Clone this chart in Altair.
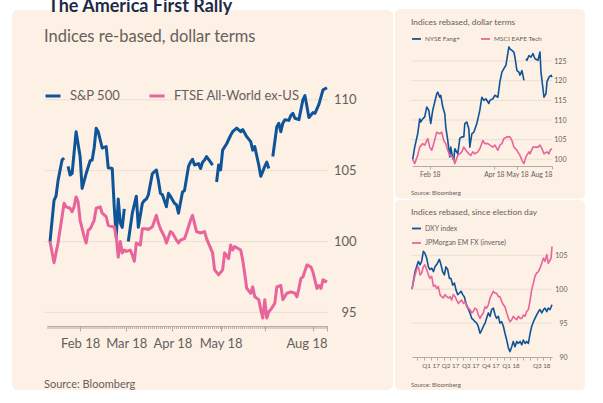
import altair as alt
import pandas as pd

FONT = "Lato"
BLUE = "#0F5499"
PINK = "#E9649A"
CARD = "#FDF0E4"
GRID = "#EADFD3"
AXIS = "#B5ABA2"
LABEL = "#66605C"

# ---------------- main chart: S&P 500 vs FTSE All-World ex-US (trading-day index) -------------
sp_days = [0, 2, 3, 4, 6, 7, 8, 9, 10, 11, 13, 15, 16, 18, 20, 21, 22, 23, 24, 26, 28, 29, 31, 32, 33,
           34, 35, 36, 37, 38, 39, 41, 43, 44, 46, 47, 48, 49, 51, 53, 54, 55, 56, 58, 59, 60, 62, 63,
           64, 66, 67, 69, 70, 71, 72, 74, 75, 76, 77, 78, 80, 81, 82, 83, 84, 85, 86, 88, 90, 91, 93,
           95, 96, 98, 100, 101, 102, 104, 105, 107, 108, 109, 110, 111, 113, 114, 115, 116, 117, 119,
           120, 121, 122, 124, 125, 126, 127, 129, 131, 132, 134, 136, 138]
sp_vals = [100.0, 102.9, 103.2, 104.3, 105.75, 105.9, None, 105.3, 104.7, 104.8, 107.75, 106.0, 103.75,
           104.8, 105.7, 105.75, 106.6, 108.0, 107.75, 106.6, 106.7, 105.2, 105.15, 102.45, 100.3,
           103.0, 101.3, 101.0, 102.3, None, 100.0, 102.0, 103.2, 101.0, 102.7, 102.9, 103.0, 103.3,
           104.8, 105.05, 104.3, 103.4, 103.3, 102.45, 103.4, 103.2, 102.7, 102.6, 102.0, 103.5, 103.6,
           105.3, 105.6, 105.8, 105.4, 105.5, 105.15, 105.6, 105.75, 106.0, 105.6, 105.4, None, 104.2,
           105.4, 105.05, 106.45, 106.9, 107.5, 107.75, 108.0, 107.75, 107.9, 107.4, 107.05, 106.45,
           106.7, 105.4, 104.6, 105.3, 105.6, 105.15, None, 106.0, 108.1, 108.35, 107.75, 108.35, 108.6,
           108.55, 108.9, 109.05, 108.7, 108.6, 109.3, 110.0, 110.3, 108.75, 109.1, 109.05, 109.7,
           110.7, 110.85]

ft_days = [0, 2, 3, 4, 6, 7, 8, 10, 11, 12, 13, 14, 15, 17, 18, 19, 20, 22, 23, 25, 26, 28, 29, 31, 32,
           33, 34, 35, 36, 37, 38, 40, 41, 42, 43, 45, 46, 48, 49, 51, 53, 54, 55, 57, 58, 60, 61, 63,
           64, 65, 67, 68, 70, 71, 73, 75, 77, 78, 81, 82, 84, 86, 87, 89, 90, 91, 92, 95, 96, 97, 98,
           100, 101, 102, 104, 105, 106, 107, 108, 109, 110, 112, 113, 115, 116, 118, 120, 122, 123,
           124, 125, 126, 128, 130, 131, 133, 134, 135, 136, 138]
ft_vals = [100.0, 98.5, 99.2, 99.9, 101.75, 102.7, 102.45, 102.35, 102.1, 102.45, 103.15, 102.8, 101.5,
           100.35, 99.9, 100.8, 100.9, 101.5, 102.35, 102.45, 102.0, 101.75, 101.15, 101.05, 101.05,
           100.35, 98.9, 100.0, 99.2, 99.4, 99.3, 99.4, 99.05, 98.6, 99.9, 99.75, 100.9, 100.9, 100.85,
           101.05, 101.85, 101.3, 100.9, 100.35, 99.9, 100.7, 100.6, 100.1, 99.9, 100.1, 100.2, 100.6,
           101.5, 101.85, 100.7, 100.6, 100.7, 100.2, 99.2, 98.0, 97.65, 98.0, 99.2, 98.8, 99.75, 99.4,
           99.65, 99.4, 98.7, 97.75, 96.7, 96.35, 96.8, 96.1, 95.9, 95.2, 94.6, 95.9, 94.6, 95.05, 95.2,
           95.65, 96.8, 96.9, 95.9, 96.35, 96.45, 96.35, 96.1, 96.7, 97.4, 97.5, 98.35, 98.2, 97.85,
           96.7, 96.9, 96.7, 97.3, 97.15]

main_series = ["S&P 500", "FTSE All-World ex-US"]
main_grid = [95, 100, 105, 110]
main_tick_vals = [15, 38, 61, 85, 107, 131, 138]
main_tick_labels = ["Feb 18", "Mar 18", "Apr 18", "May 18", "", "", "Aug 18"]

# ---------------- top right: NYSE Fang+ vs MSCI EAFE Tech -------------
fang_days = [0, 2, 5, 7, 8, 10, 12, 14, 16, 18, 20, 22, 24, 25, 27, 28, 30, 32, 33, 35, 37, 38, 40, 41,
             42, 45, 47, 49, 51, 52, 54, 56, 57, 59, 61, 64, 67, 69, 71, 73, 76, 77, 80, 82, 85, 87, 89,
             91, 93, 96, 97, 99, 101, 102, 104, 106, 107, 109, 111, 112, 113, 114, 116, 118, 120, 122,
             125, 127, 128, 131, 133, 134, 136, 138, 139]
fang_vals = [100.0, 103.1, 106.5, 110.3, 109.5, 110.3, 110.8, 113.3, 112.5, 109.1, 112.5, 114.6, 116.7,
             117.1, 115.8, 116.3, 113.3, 111.6, 108.2, 104.8, 100.6, 103.1, 100.2, 99.8, 102.7, 101.4,
             105.3, 105.7, 105.7, 109.1, 109.5, 107.8, 103.1, 106.5, 106.9, 109.1, 112.5, 115.8, 115.0,
             115.4, 114.2, 115.0, 115.4, 116.3, 115.8, 119.7, 122.2, 123.1, 123.9, 128.6, 128.1, 127.7,
             127.3, 126.0, 122.6, 122.2, 121.4, 122.6, 120.1, None, 125.6, 125.2, 126.4, 126.0, 126.9,
             125.6, 125.2, 127.3, 122.2, 115.8, 116.7, 119.7, 120.9, 121.4, 120.9]
eafe_days = [0, 2, 5, 7, 10, 12, 15, 17, 19, 21, 24, 27, 29, 31, 33, 35, 37, 40, 42, 45, 47, 49, 51, 53,
             56, 58, 60, 62, 65, 67, 70, 72, 75, 77, 80, 82, 85, 87, 89, 91, 94, 97, 99, 101, 104, 107,
             109, 111, 113, 116, 117, 120, 122, 125, 127, 129, 131, 134, 136, 137, 139]
eafe_vals = [100.0, 98.9, 101.0, 103.1, 104.0, 103.6, 105.3, 103.1, 102.3, 104.0, 106.9, 106.5, 106.9,
             104.8, 104.0, 102.3, 101.0, 100.6, 98.9, 101.0, 101.4, 101.9, 103.1, 102.3, 101.4, 101.0,
             101.9, 101.4, 101.9, 102.7, 104.8, 104.0, 104.0, 103.6, 103.1, 103.6, 102.3, 103.6, 104.0,
             105.3, 105.7, 105.7, 104.8, 103.1, 102.3, 101.0, 99.75, 98.9, 100.6, 101.9, 101.4, 103.1,
             103.1, 103.1, 103.6, 102.7, 101.4, 101.9, 101.4, 102.3, 102.7]
tr_series = ["NYSE Fang+", "MSCI EAFE Tech"]
tr_grid = [100, 105, 110, 115, 120, 125]
tr_tick_vals = [17, 81, 104, 139]
tr_tick_labels = ["Feb 18", "Apr 18", "May 18", "Aug 18"]

# ---------------- bottom right: DXY vs JPMorgan EM FX (days since election day) -------------
ELECTION = "2016-11-08"
dxy_days = [0, 14, 21, 29, 37, 44, 52, 59, 67, 75, 82, 90, 98, 105, 116, 125, 131, 140, 148, 155, 163,
            171, 178, 186, 194, 201, 209, 216, 224, 232, 239, 247, 258, 265, 273, 280, 288, 296, 303,
            311, 319, 326, 334, 341, 349, 357, 364, 372, 380, 387, 395, 402, 410, 418, 425, 433, 441,
            448, 456, 463, 471, 479, 486, 494, 502, 509, 517, 524, 532, 540, 547, 555, 562, 570, 578,
            585, 593, 601, 608, 616, 623, 631, 640]
dxy_vals = [100.0, 102.6, 103.3, 104.1, 103.6, 104.1, 105.6, 105.3, 104.6, 103.3, 102.9, 103.1, 102.6,
            103.3, 103.8, 104.4, 103.8, 102.6, 102.1, 103.3, 102.9, 101.6, 101.6, 100.6, 100.9, 99.9,
            99.2, 99.4, 99.7, 99.2, 98.9, 97.9, 97.0, 96.5, 95.7, 95.5, 95.2, 95.0, 94.5, 93.5, 94.0,
            94.5, 95.0, 95.7, 96.5, 96.0, 97.0, 97.2, 96.2, 95.7, 96.0, 95.0, 95.2, 94.5, 93.5, 92.5,
            91.3, 90.8, 91.5, 92.3, 91.5, 92.3, 92.0, 92.3, 91.8, 92.5, 92.0, 92.3, 92.0, 93.5, 94.5,
            95.2, 95.7, 96.2, 96.7, 97.0, 96.5, 97.0, 97.2, 96.7, 97.2, 97.0, 97.7]
em_days = [0, 14, 21, 29, 37, 44, 52, 59, 67, 75, 82, 90, 98, 105, 113, 120, 128, 136, 143, 151, 159,
           166, 174, 181, 189, 197, 204, 212, 220, 227, 235, 242, 250, 258, 265, 273, 280, 288, 296,
           303, 311, 319, 326, 334, 341, 349, 357, 364, 372, 380, 387, 395, 402, 410, 418, 425, 433,
           441, 448, 456, 463, 471, 479, 486, 494, 502, 509, 517, 524, 532, 540, 547, 555, 562, 570,
           578, 585, 593, 601, 608, 616, 623, 631, 636, 640]
em_vals = [100.0, 102.1, 102.9, 103.3, 102.1, 102.4, 103.3, 103.6, 102.9, 102.1, 101.6, 101.9, 100.4,
           100.6, 100.1, 100.4, 99.2, 98.9, 98.7, 99.2, 98.9, 98.7, 98.9, 98.4, 99.2, 98.9, 98.4, 97.9,
           98.2, 98.4, 97.9, 98.2, 97.4, 97.2, 97.0, 96.5, 96.7, 97.2, 97.0, 96.2, 95.7, 96.2, 96.5,
           97.4, 97.2, 97.7, 98.7, 99.2, 99.7, 99.4, 99.4, 98.9, 98.9, 98.2, 97.7, 97.4, 96.5, 95.7,
           95.2, 95.5, 96.0, 95.7, 95.5, 96.0, 95.7, 95.7, 96.2, 96.0, 96.7, 97.0, 98.4, 99.9, 100.9,
           101.9, 102.4, 102.6, 103.1, 103.8, 104.6, 104.1, 105.1, 103.8, 104.3, 104.6, 106.3]
br_series = ["DXY index", "JPMorgan EM FX (inverse)"]
br_grid = [95, 100, 105]
br_y_ticks = [90, 95, 100, 105]
br_label_months = ["2017-02", "2017-05", "2017-08", "2017-11", "2018-02", "2018-08"]
br_labels = ["Q1 17", "Q2 17", "Q3 17", "Q4 17", "Q1 18", "Q3 18"]


def to_rows(xs, ys, name):
    rows, seg = [], 0
    for x, y in zip(xs, ys):
        if y is None:
            seg += 1
            continue
        rows.append({"x": x, "v": y, "s": name, "seg": f"{name}-{seg}"})
    return rows


def label_expr(vals, labels, key="datum.value"):
    expr = "''"
    for v, l in reversed(list(zip(vals, labels))):
        expr = f"{key} == {v!r} ? '{l}' : ({expr})"
    return expr


def one():
    return pd.DataFrame({"t": [""]})


def rect(x, x2, y, y2, color, r=0):
    return alt.Chart(one()).mark_rect(color=color, cornerRadius=r).encode(
        x=alt.value(x), x2=alt.value(x2), y=alt.value(y), y2=alt.value(y2))


def text(s, x, y, size, color, weight="normal"):
    return alt.Chart(pd.DataFrame({"t": [s]})).mark_text(
        align="left", baseline="alphabetic", font=FONT, fontSize=size, color=color,
        fontWeight=weight).encode(text="t:N", x=alt.value(x), y=alt.value(y))


def grid(vals, yscale, yaxis, x0, x1):
    return alt.Chart(pd.DataFrame({"v": vals})).mark_rule(color=GRID, strokeWidth=1).encode(
        y=alt.Y("v:Q", scale=yscale, axis=yaxis), x=alt.value(x0), x2=alt.value(x1))


# ---------- main ----------
W1, H1 = 280, 283
xs1 = alt.Scale(domain=[-1.5, 138], nice=False, zero=False)
ys1 = alt.Scale(domain=[94.04, 114.01], nice=False, zero=False)
ax1 = alt.Axis(values=main_tick_vals, labelExpr=label_expr(main_tick_vals, main_tick_labels), title=None,
               grid=False, tickSize=5, tickColor=AXIS, domainColor=AXIS, labelFont=FONT, labelFontSize=13,
               labelColor=LABEL, labelPadding=6, labelOverlap=False, labelFlush=True, zindex=1)
ay1 = alt.Axis(orient="right", values=main_grid, title=None, grid=False, ticks=False, tickSize=0,
               domain=False, labelAlign="right", labelPadding=29, labelFont=FONT, labelFontSize=13,
               labelColor=LABEL, zindex=1)
main_df = pd.DataFrame(to_rows(sp_days, sp_vals, main_series[0]) + to_rows(ft_days, ft_vals, main_series[1]))
main_lines = alt.Chart(main_df).mark_line(strokeWidth=3, strokeJoin="round").encode(
    x=alt.X("x:Q", scale=xs1, axis=ax1),
    y=alt.Y("v:Q", scale=ys1, axis=ay1),
    color=alt.Color("s:N", scale=alt.Scale(domain=main_series, range=[BLUE, PINK]), legend=alt.Legend(
        orient="none", legendX=-3, legendY=44, direction="horizontal", title=None, symbolType="stroke",
        symbolStrokeWidth=3, symbolSize=225, labelFont=FONT, labelFontSize=13, labelColor=LABEL,
        labelOffset=8, columnPadding=22, padding=0)),
    detail="seg:N",
)
main_minor = alt.Chart(pd.DataFrame({"x": list(range(-1, 139))})).mark_rule(
    color=AXIS, strokeWidth=1).encode(
    x=alt.X("x:Q", scale=xs1, axis=ax1), y=alt.value(H1), y2=alt.value(H1 + 3))
main = alt.layer(
    rect(-47, 556, -63, 360, "#FFFFFF"),
    rect(-35, 346, -33, 347, CARD, 6),
    text("The America First Rally", 1, -31, 18, "#1F2B44", "bold"),
    text("Indices re-based, dollar terms", -3, -1.5, 16.5, LABEL),
    text("Source: Bloomberg", -3, 345, 11, LABEL),
    grid(main_grid, ys1, ay1, -2, W1 + 1),
    main_minor,
    main_lines,
).properties(width=W1, height=H1)

# ---------- top right ----------
W2, H2 = 140, 123
xs2 = alt.Scale(domain=[-0.7, 139], nice=False, zero=False)
ys2 = alt.Scale(domain=[98.3, 129.6], nice=False, zero=False)
ax2 = alt.Axis(values=tr_tick_vals, labelExpr=label_expr(tr_tick_vals, tr_tick_labels), title=None,
               grid=False, tickSize=3, tickColor=AXIS, domainColor=AXIS, labelFont=FONT, labelFontSize=6.8,
               labelColor=LABEL, labelPadding=2, labelOverlap=False, labelFlush=True, zindex=1)
ay2 = alt.Axis(orient="right", values=tr_grid, title=None, grid=False, ticks=False, tickSize=0,
               domain=False, labelAlign="right", labelPadding=14, labelFont=FONT, labelFontSize=7,
               labelColor=LABEL, zindex=1)
tr_df = pd.DataFrame(to_rows(fang_days, fang_vals, tr_series[0]) + to_rows(eafe_days, eafe_vals, tr_series[1]))
tr_lines = alt.Chart(tr_df).mark_line(strokeWidth=1.6, strokeJoin="round").encode(
    x=alt.X("x:Q", scale=xs2, axis=ax2),
    y=alt.Y("v:Q", scale=ys2, axis=ay2),
    color=alt.Color("s:N", scale=alt.Scale(domain=tr_series, range=[BLUE, PINK]), legend=alt.Legend(
        orient="none", legendX=-1, legendY=-10, direction="horizontal", title=None, symbolType="stroke",
        symbolStrokeWidth=1.8, symbolSize=81, labelFont=FONT, labelFontSize=6.5, labelColor=LABEL,
        labelOffset=3, columnPadding=16, padding=0)),
    detail="seg:N",
)
tr = alt.layer(
    rect(-17, 173, -34, 155.5, CARD, 5),
    text("Indices rebased, dollar terms", -1, -18, 8.4, LABEL),
    text("Source: Bloomberg", -1, 152, 6, LABEL),
    grid(tr_grid, ys2, ay2, -1, W2),
    tr_lines,
).properties(width=W2, height=H2)

# ---------- bottom right ----------
W3, H3 = 140, 111
start = pd.Timestamp(ELECTION)
br_rows = to_rows(dxy_days, dxy_vals, br_series[0]) + to_rows(em_days, em_vals, br_series[1])
br_df = pd.DataFrame(br_rows)
br_df["date"] = (start + pd.to_timedelta(br_df["x"], unit="D")).dt.strftime("%Y-%m-%dT00:00:00")
month_ticks = [alt.DateTime(year=y, month=m, date=1)
               for y, m in [(2016, 12)] + [(2017, k) for k in range(1, 13)] + [(2018, k) for k in range(1, 9)]]
br_expr = "''"
for mo, lab in reversed(list(zip(br_label_months, br_labels))):
    br_expr = f"timeFormat(datum.value, '%Y-%m') == '{mo}' ? '{lab}' : ({br_expr})"
xs3 = alt.Scale(domain=[alt.DateTime(year=2016, month=11, date=8), alt.DateTime(year=2018, month=8, date=10)],
                nice=False)
ys3 = alt.Scale(domain=[90, 106.37], nice=False, zero=False)
ax3 = alt.Axis(values=month_ticks, labelExpr=br_expr, title=None, grid=False, tickSize=3, tickColor=AXIS,
               domainColor=AXIS, labelFont=FONT, labelFontSize=6.3, labelColor=LABEL, labelPadding=2,
               labelOverlap=False, labelFlush=3, zindex=1)
ay3 = alt.Axis(orient="right", values=br_y_ticks, title=None, grid=False, ticks=False, tickSize=0,
               domain=False, labelAlign="right", labelPadding=15, labelFont=FONT, labelFontSize=7,
               labelColor=LABEL, zindex=1)
br_lines = alt.Chart(br_df).mark_line(strokeWidth=1.6, strokeJoin="round").encode(
    x=alt.X("date:T", scale=xs3, axis=ax3),
    y=alt.Y("v:Q", scale=ys3, axis=ay3),
    color=alt.Color("s:N", scale=alt.Scale(domain=br_series, range=[BLUE, PINK]), legend=alt.Legend(
        orient="none", legendX=-1, legendY=-23, direction="vertical", title=None, symbolType="stroke",
        symbolStrokeWidth=1.8, symbolSize=81, labelFont=FONT, labelFontSize=7, labelColor=LABEL,
        labelOffset=3, rowPadding=4.5, padding=0)),
    detail="seg:N",
)
br = alt.layer(
    rect(-17, 173, -46, 144, CARD, 5),
    text("Indices rebased, since election day", -1, -31.5, 8.4, LABEL),
    text("Source: Bloomberg", -1, 141, 6, LABEL),
    grid(br_grid, ys3, ay3, -1, W3),
    br_lines,
).properties(width=W3, height=H3)

right = alt.vconcat(tr, br, spacing=80, bounds="flush").resolve_scale(color="independent")
chart = alt.hconcat(main, right, spacing=85, bounds="flush").resolve_scale(
    color="independent").properties(
    padding={"left": 0, "top": -20, "right": 0, "bottom": 0}
).configure(background="#FFFFFF", font=FONT).configure_view(strokeWidth=0)

chart.save("out.html", embed_options={"renderer": "svg", "actions": False})
